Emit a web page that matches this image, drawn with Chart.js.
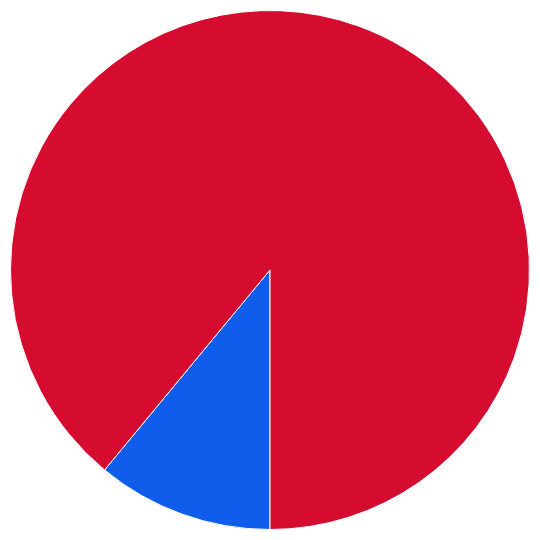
<!DOCTYPE html>
<html>
<head>
<meta charset="utf-8">
<script src="https://cdn.jsdelivr.net/npm/chart.js@4"></script>
<style>
  html, body { margin: 0; padding: 0; background: #fff; }
  #wrap { width: 540px; height: 540px; }
</style>
</head>
<body>
<div id="wrap"><canvas id="pizza"></canvas></div>
<script>
const labels = ['Blue', 'Red'];
const values = [11, 89];
const colors = ['#115deb', '#d50c2f'];

const data = {
  labels: labels,
  datasets: [{
    data: values,
    backgroundColor: colors,
    borderColor: '#ffffff',
    borderWidth: 1
  }]
};

const config = {
  type: 'pie',
  data: data,
  options: {
    responsive: true,
    maintainAspectRatio: false,
    animation: false,
    rotation: 180,
    layout: { padding: 10 },
    plugins: {
      legend: { display: false },
      tooltip: { enabled: false }
    }
  }
};

const pieChart = new Chart(document.getElementById('pizza'), config);
</script>
</body>
</html>
